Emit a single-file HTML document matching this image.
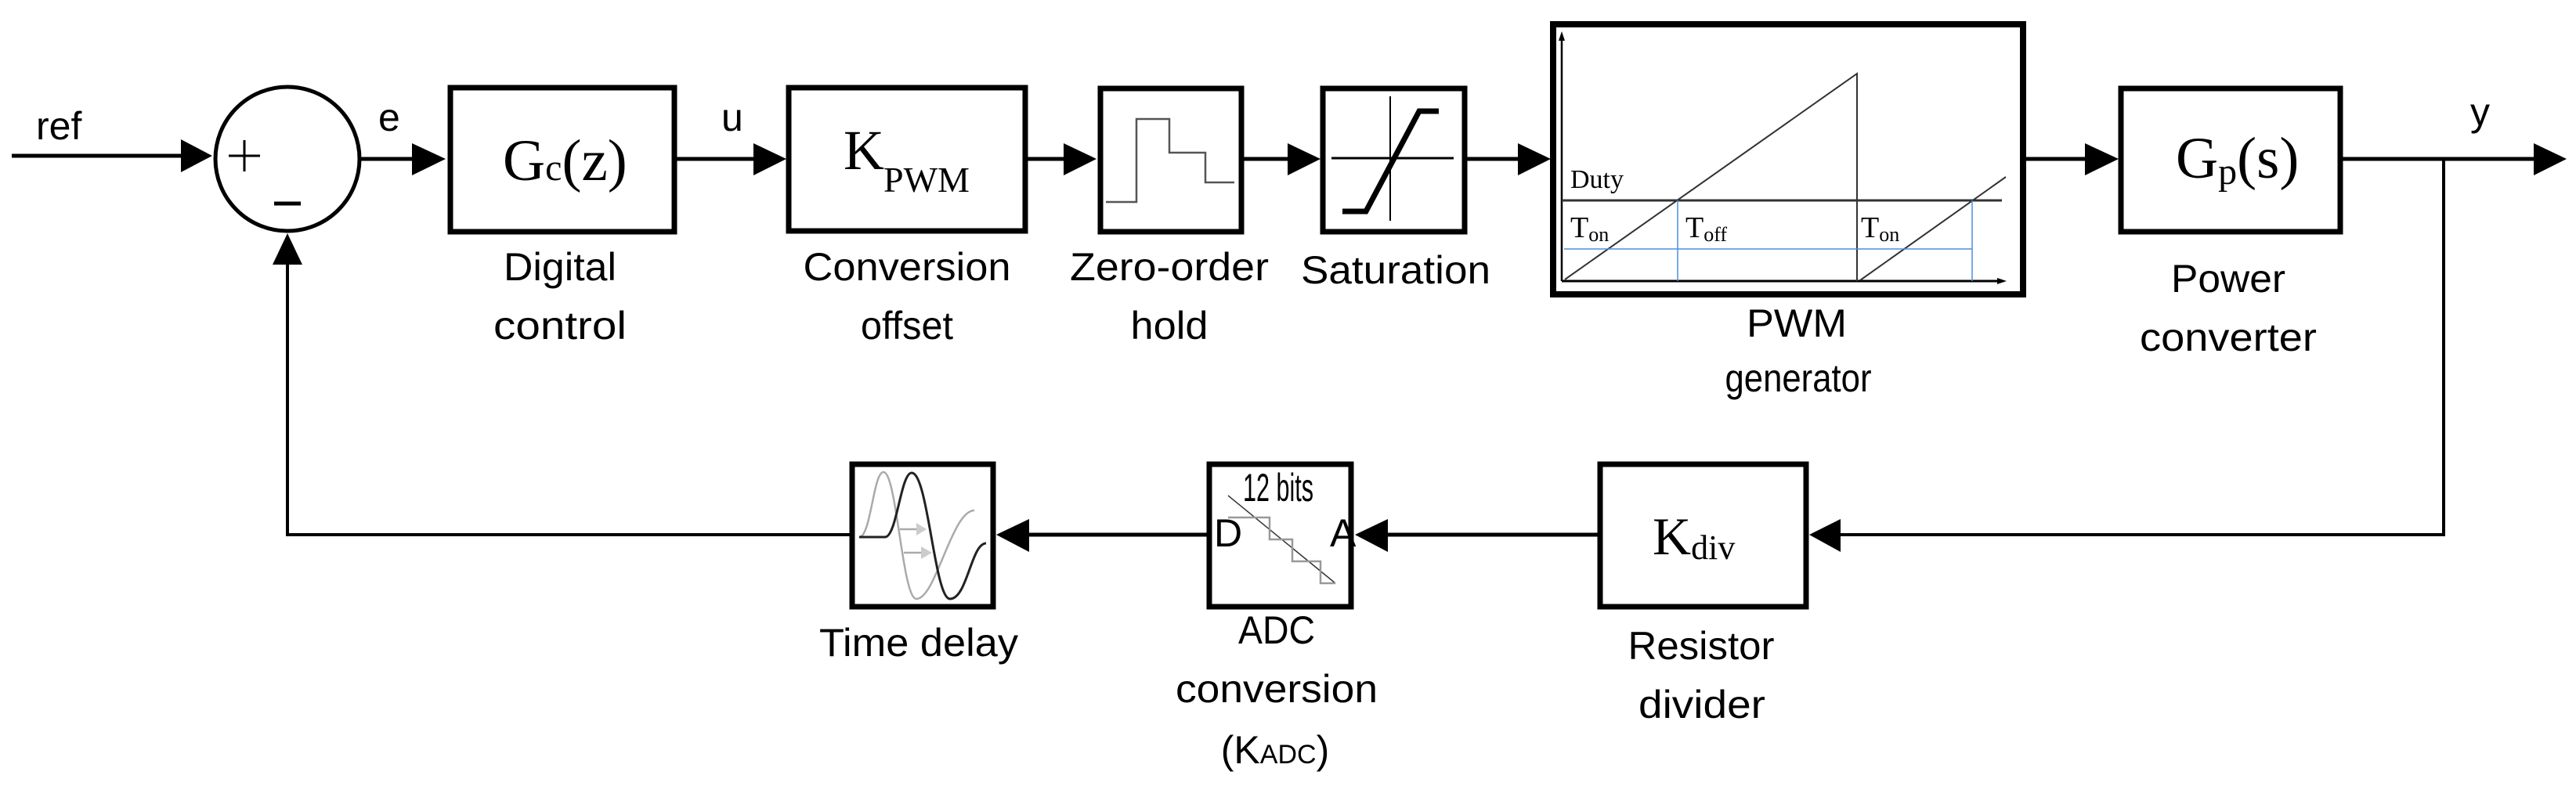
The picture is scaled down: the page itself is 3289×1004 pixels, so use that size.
<!DOCTYPE html>
<html><head><meta charset="utf-8"><style>
html,body{margin:0;padding:0;background:#fff}
svg{display:block}
.l{font-family:"Liberation Sans",sans-serif;font-size:50px;fill:#000}
.m{font-family:"Liberation Serif",serif;fill:#000}
</style></head><body>
<svg width="3289" height="1004" viewBox="0 0 3289 1004" xmlns="http://www.w3.org/2000/svg">
<rect width="3289" height="1004" fill="#fff"/>
<g stroke="#000" fill="none">
<!-- main line -->
<line x1="15" y1="199" x2="240" y2="199" stroke-width="5"/>
<line x1="460" y1="203" x2="530" y2="203" stroke-width="5"/>
<line x1="864" y1="203" x2="965" y2="203" stroke-width="5"/>
<line x1="1310" y1="203" x2="1360" y2="203" stroke-width="5"/>
<line x1="1588" y1="203" x2="1646" y2="203" stroke-width="5"/>
<line x1="1873" y1="203" x2="1940" y2="203" stroke-width="5"/>
<line x1="2586" y1="203" x2="2665" y2="203" stroke-width="5"/>
<line x1="2990" y1="203" x2="3240" y2="203" stroke-width="5"/>
<!-- feedback -->
<polyline points="3120,203 3120,683 2345,683" stroke-width="4"/>
<line x1="2040" y1="683" x2="1770" y2="683" stroke-width="5"/>
<line x1="1541" y1="683" x2="1310" y2="683" stroke-width="5"/>
<polyline points="1085,683 367,683 367,335" stroke-width="4"/>
<!-- summing -->
<circle cx="367" cy="203" r="92" stroke-width="5"/>
<line x1="292" y1="199" x2="332" y2="199" stroke-width="3"/>
<line x1="312" y1="179" x2="312" y2="219" stroke-width="3"/>
<line x1="350" y1="260" x2="384" y2="260" stroke-width="5"/>
<!-- boxes -->
<rect x="575" y="112" width="286" height="184" stroke-width="7"/>
<rect x="1007" y="112" width="302" height="183" stroke-width="7"/>
<rect x="1405" y="113" width="180" height="183" stroke-width="7"/>
<rect x="1689" y="113" width="181" height="183" stroke-width="7"/>
<rect x="1983" y="31" width="600" height="345" stroke-width="8"/>
<rect x="2708" y="113" width="280" height="183" stroke-width="7"/>
<rect x="2043" y="593" width="263" height="182" stroke-width="7"/>
<rect x="1544" y="593" width="181" height="182" stroke-width="7"/>
<rect x="1088" y="593" width="180" height="182" stroke-width="7"/>
<!-- ZOH -->
<polyline points="1412,258 1451,258 1451,152 1493,152 1493,195 1539,195 1539,233 1576,233" stroke="#555" stroke-width="2.5"/>
<!-- saturation -->
<line x1="1700" y1="202" x2="1856" y2="202" stroke-width="3"/>
<line x1="1775" y1="123" x2="1775" y2="282" stroke-width="2"/>
<polyline points="1714,270 1744,270 1812,142 1837,142" stroke-width="7"/>
<!-- PWM -->
<line x1="1994" y1="359" x2="1994" y2="46" stroke-width="2.5"/>
<line x1="1994" y1="359" x2="2554" y2="359" stroke-width="3"/>
<line x1="1994" y1="256" x2="2556" y2="256" stroke="#333" stroke-width="3"/>
<polyline points="1998,357 2371,94 2371,359" stroke="#333" stroke-width="2"/>
<line x1="2375" y1="358" x2="2561" y2="226" stroke="#333" stroke-width="2"/>
<line x1="1997" y1="318" x2="2518" y2="318" stroke="#4a8fe0" stroke-width="1.5"/>
<line x1="2142" y1="256" x2="2142" y2="359" stroke="#4a8fe0" stroke-width="1.5"/>
<line x1="2518" y1="256" x2="2518" y2="359" stroke="#4a8fe0" stroke-width="1.5"/>
<!-- ADC -->
<line x1="1568" y1="633" x2="1705" y2="745" stroke="#333" stroke-width="1.5"/>
<polyline points="1568,661 1621,661 1621,689 1650,689 1650,717 1686,717 1686,745 1705,745" stroke="#999" stroke-width="2.5"/>
<!-- time delay -->
<path d="M1097,686 C1112,686 1115,603 1128,603 C1145,603 1152,765 1170,765 C1195,765 1215,652 1244,652" stroke="#aaa" stroke-width="2.5"/>
<path d="M1097,686 L1130,686 C1145,686 1150,604 1164,604 C1185,604 1193,765 1213,765 C1235,765 1240,694 1259,694" stroke="#222" stroke-width="3"/>
<line x1="1149" y1="676" x2="1172" y2="676" stroke="#aaa" stroke-width="2.5"/>
<line x1="1154" y1="706" x2="1176" y2="706" stroke="#aaa" stroke-width="2.5"/>
</g>
<g fill="#000">
<polygon points="231,178 271,199 231,220"/>
<polygon points="526,183 569,203 526,224"/>
<polygon points="962,183 1004,203 962,224"/>
<polygon points="1358,183 1400,203 1358,224"/>
<polygon points="1644,183 1686,203 1644,224"/>
<polygon points="1938,183 1980,203 1938,224"/>
<polygon points="2662,183 2705,203 2662,224"/>
<polygon points="3235,183 3277,203 3235,224"/>
<polygon points="2350,663 2310,683 2350,705"/>
<polygon points="1772,663 1730,683 1772,705"/>
<polygon points="1314,663 1272,683 1314,705"/>
<polygon points="348,338 367,298 386,338"/>
<polygon points="1994,40 1990,52 1998,52"/>
<polygon points="2562,359 2550,355 2550,363"/>
<polygon points="1170,668 1183,676 1170,684" fill="#ccc"/>
<polygon points="1176,698 1190,706 1176,714" fill="#ccc"/>
</g>
<!-- signal labels -->
<text class="l" x="46" y="178" font-size="68">ref</text>
<text class="l" x="483" y="167" font-size="68">e</text>
<text class="l" x="921" y="167" font-size="68">u</text>
<text class="l" x="3154" y="160" font-size="68">y</text>
<!-- math -->
<text class="m" x="642" y="230" font-size="75">G<tspan font-size="48">c</tspan>(z)</text>
<text class="m" x="1077" y="216" font-size="72">K</text>
<text class="m" x="1128" y="245" font-size="46" textLength="110" lengthAdjust="spacingAndGlyphs">PWM</text>
<text class="m" x="2778" y="227" font-size="75">G<tspan font-size="48" dy="8">p</tspan><tspan dy="-8">(s)</tspan></text>
<text class="m" x="2110" y="708" font-size="68">K<tspan font-size="44" dy="6">div</tspan></text>
<text class="m" x="2005" y="240" font-size="34">Duty</text>
<text class="m" x="2005" y="303" font-size="38">T<tspan font-size="26" dy="5">on</tspan></text>
<text class="m" x="2152" y="303" font-size="38">T<tspan font-size="26" dy="5">off</tspan></text>
<text class="m" x="2376" y="303" font-size="38">T<tspan font-size="26" dy="5">on</tspan></text>
<text class="l" x="1587" y="640" font-size="26" textLength="90" lengthAdjust="spacingAndGlyphs">12 bits</text>
<text class="l" x="1550" y="698" font-size="28">D</text>
<text class="l" x="1698" y="698" font-size="28">A</text>
<!-- block labels -->
<g class="l" text-anchor="middle">
<text x="715" y="358" textLength="144" lengthAdjust="spacingAndGlyphs">Digital</text>
<text x="715" y="433" textLength="170" lengthAdjust="spacingAndGlyphs">control</text>
<text x="1158" y="358" textLength="265" lengthAdjust="spacingAndGlyphs">Conversion</text>
<text x="1158" y="433" textLength="118" lengthAdjust="spacingAndGlyphs">offset</text>
<text x="1493" y="358" textLength="254" lengthAdjust="spacingAndGlyphs">Zero-order</text>
<text x="1493" y="433" textLength="99" lengthAdjust="spacingAndGlyphs">hold</text>
<text x="1782" y="362" textLength="242" lengthAdjust="spacingAndGlyphs">Saturation</text>
<text x="2294" y="430" textLength="128" lengthAdjust="spacingAndGlyphs">PWM</text>
<text x="2296" y="500" textLength="187" lengthAdjust="spacingAndGlyphs">generator</text>
<text x="2845" y="373" textLength="146" lengthAdjust="spacingAndGlyphs">Power</text>
<text x="2845" y="448" textLength="226" lengthAdjust="spacingAndGlyphs">converter</text>
<text x="1173" y="838" textLength="254" lengthAdjust="spacingAndGlyphs">Time delay</text>
<text x="1630" y="822" textLength="98" lengthAdjust="spacingAndGlyphs">ADC</text>
<text x="1630" y="897" textLength="258" lengthAdjust="spacingAndGlyphs">conversion</text>
<text x="1628" y="975">(K<tspan font-size="34">ADC</tspan>)</text>
<text x="2172" y="842" textLength="187" lengthAdjust="spacingAndGlyphs">Resistor</text>
<text x="2173" y="917" textLength="162" lengthAdjust="spacingAndGlyphs">divider</text>
</g>
</svg>
</body></html>
